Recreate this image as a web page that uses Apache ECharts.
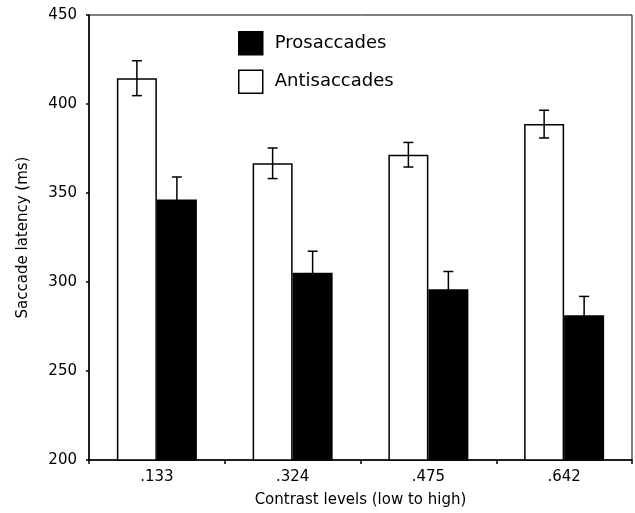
<!DOCTYPE html>
<html>
<head>
<meta charset="utf-8">
<script src="https://cdn.jsdelivr.net/npm/echarts@6/dist/echarts.min.js"></script>
<style>
html,body{margin:0;padding:0;background:#fff;}
#c{width:635px;height:513px;}
</style>
</head>
<body>
<div id="c"></div>
<script>
const categories = ['.133', '.324', '.475', '.642'];
const antisaccades = [414.5, 366.7, 371.5, 388.7];
const antisaccadesErr = [9.8, 8.6, 6.9, 7.8];
const prosaccades = [346.3, 305.2, 295.9, 281.3];
const prosaccadesErr = [12.7, 12.1, 10.0, 10.6];
const yTicks = [200, 250, 300, 350, 400, 450];

const FONT = 'DejaVu Sans';
const BAR_W = 40;

function errSeries(name, means, errs, offset, z) {
  return {
    type: 'custom',
    name: name + ' error',
    z: z,
    silent: true,
    data: means.map((m, i) => [i, m, errs[i]]),
    renderItem: function (params, api) {
      const i = api.value(0), m = api.value(1), e = api.value(2);
      const top = api.coord([i, m + e]);
      const bot = api.coord([i, m - e]);
      const x = top[0] + offset;
      const cap = 5;
      const st = { stroke: '#000', lineWidth: 1.5 };
      return {
        type: 'group',
        children: [
          { type: 'line', shape: { x1: x, y1: top[1], x2: x, y2: bot[1] }, style: st },
          { type: 'line', shape: { x1: x - cap, y1: top[1], x2: x + cap, y2: top[1] }, style: st },
          { type: 'line', shape: { x1: x - cap, y1: bot[1], x2: x + cap, y2: bot[1] }, style: st }
        ]
      };
    }
  };
}

const chart = echarts.init(document.getElementById('c'), null, { renderer: 'canvas' });
chart.setOption({
  animation: false,
  backgroundColor: '#fff',
  textStyle: { fontFamily: FONT },
  grid: {
    left: 89, right: 3, top: 15, bottom: 52,
    show: true, borderColor: '#000', borderWidth: 1, backgroundColor: 'transparent'
  },
  legend: {
    orient: 'vertical',
    left: 238, top: 31,
    padding: 0,
    itemWidth: 24, itemHeight: 23, itemGap: 14,
    icon: 'rect',
    textStyle: { fontFamily: FONT, fontSize: 18, color: '#000', padding: [0, 0, 0, 7] },
    data: [
      { name: 'Prosaccades', itemStyle: { color: '#000', borderColor: '#000', borderWidth: 1.5 } },
      { name: 'Antisaccades', itemStyle: { color: '#fff', borderColor: '#000', borderWidth: 1.5 } }
    ]
  },
  xAxis: {
    type: 'category',
    data: categories,
    boundaryGap: true,
    name: 'Contrast levels (low to high)',
    nameLocation: 'middle',
    nameGap: 33,
    nameTextStyle: { fontFamily: FONT, fontSize: 15, color: '#000' },
    axisLine: { lineStyle: { color: '#000', width: 1.5 } },
    axisTick: { show: true, length: 4, inside: false, lineStyle: { color: '#000', width: 1.5 } },
    axisLabel: { fontFamily: FONT, fontSize: 15, color: '#000', margin: 10 },
    splitLine: { show: false }
  },
  yAxis: {
    type: 'value',
    min: yTicks[0], max: yTicks[yTicks.length - 1], interval: 50,
    name: 'Saccade latency (ms)',
    nameLocation: 'middle',
    nameGap: 58,
    nameTextStyle: { fontFamily: FONT, fontSize: 15, color: '#000' },
    axisLine: { show: true, lineStyle: { color: '#000', width: 1.5 } },
    axisTick: { show: true, length: 3, inside: false, lineStyle: { color: '#000', width: 1.5 } },
    axisLabel: { fontFamily: FONT, fontSize: 15, color: '#000', margin: 12 },
    splitLine: { show: false }
  },
  series: [
    {
      name: 'Antisaccades', type: 'bar', data: antisaccades,
      barWidth: BAR_W, barGap: '0%', z: 2,
      itemStyle: { color: '#fff', borderColor: '#000', borderWidth: 1.5 }
    },
    {
      name: 'Prosaccades', type: 'bar', data: prosaccades,
      barWidth: BAR_W, barGap: '0%', z: 2,
      itemStyle: { color: '#000', borderColor: '#000', borderWidth: 1.5 }
    },
    errSeries('Antisaccades', antisaccades, antisaccadesErr, -BAR_W / 2, 10),
    errSeries('Prosaccades', prosaccades, prosaccadesErr, BAR_W / 2, 1)
  ]
});
</script>
</body>
</html>
